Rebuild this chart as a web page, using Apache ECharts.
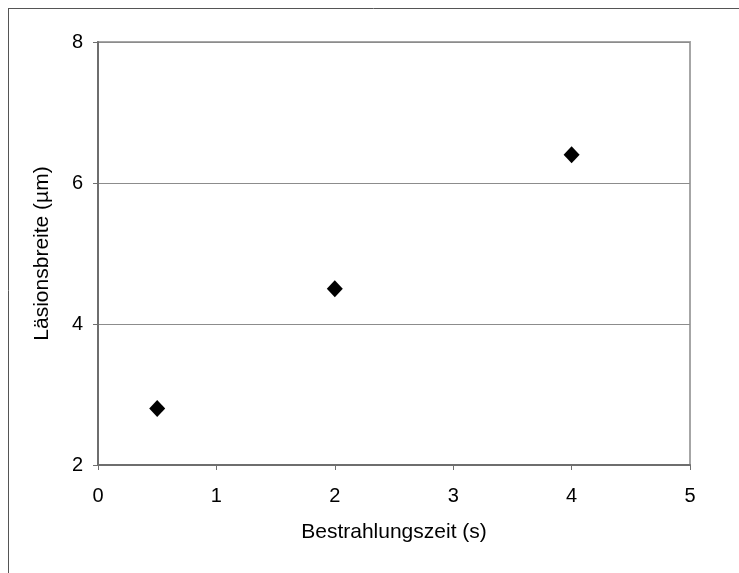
<!DOCTYPE html>
<html>
<head>
<meta charset="utf-8">
<script src="https://cdn.jsdelivr.net/npm/echarts@6/dist/echarts.min.js"></script>
<style>
    html, body { margin: 0; padding: 0; background: #fff; }
    #chart { width: 739px; height: 573px; }
</style>
</head>
<body>
<div id="chart"></div>
<script>
    // Bestrahlungszeit (s) / Läsionsbreite (µm)
    const zeit = [0.5, 2, 4];
    const breite = [2.8, 4.5, 6.4];
    const xName = 'Bestrahlungszeit (s)';
    const yName = 'Läsionsbreite (µm)';

    const font = '"Liberation Sans", Arial, sans-serif';

    const chart = echarts.init(document.getElementById('chart'));
    chart.setOption({
        animation: false,
        graphic: [
            // äußerer Rahmen (oben + links)
            { type: 'line', shape: { x1: 8, y1: 8.5, x2: 739, y2: 8.5 }, style: { stroke: '#555', lineWidth: 1 } },
            { type: 'line', shape: { x1: 8.5, y1: 8, x2: 8.5, y2: 573 }, style: { stroke: '#555', lineWidth: 1 } }
        ],
        grid: {
            left: 98, right: 49, top: 42, bottom: 108,
            show: true,
            borderColor: '#a6a6a6',
            borderWidth: 2
        },
        xAxis: {
            type: 'value',
            min: 0, max: 5, interval: 1,
            name: xName,
            nameLocation: 'middle',
            nameGap: 57,
            nameTextStyle: { fontFamily: font, fontSize: 21, color: '#000' },
            axisLine: { lineStyle: { color: '#6e6e6e', width: 2 } },
            axisTick: { show: true, length: 5, lineStyle: { color: '#6e6e6e' } },
            axisLabel: { fontFamily: font, fontSize: 20, color: '#000', margin: 21 },
            splitLine: { show: false }
        },
        yAxis: {
            type: 'value',
            min: 2, max: 8, interval: 2,
            name: yName,
            nameLocation: 'middle',
            nameGap: 45,
            nameTextStyle: { fontFamily: font, fontSize: 21, color: '#000' },
            axisLine: { show: true, lineStyle: { color: '#6e6e6e', width: 2 } },
            axisTick: { show: true, length: 5, lineStyle: { color: '#6e6e6e' } },
            axisLabel: { fontFamily: font, fontSize: 20, color: '#000', margin: 15 },
            splitLine: { show: true, lineStyle: { color: '#8c8c8c', width: 1 } }
        },
        series: [{
            type: 'scatter',
            data: zeit.map((x, i) => [x, breite[i]]),
            symbol: 'diamond',
            symbolSize: [16, 17],
            itemStyle: { color: '#000', opacity: 1 }
        }]
    });
</script>
</body>
</html>
